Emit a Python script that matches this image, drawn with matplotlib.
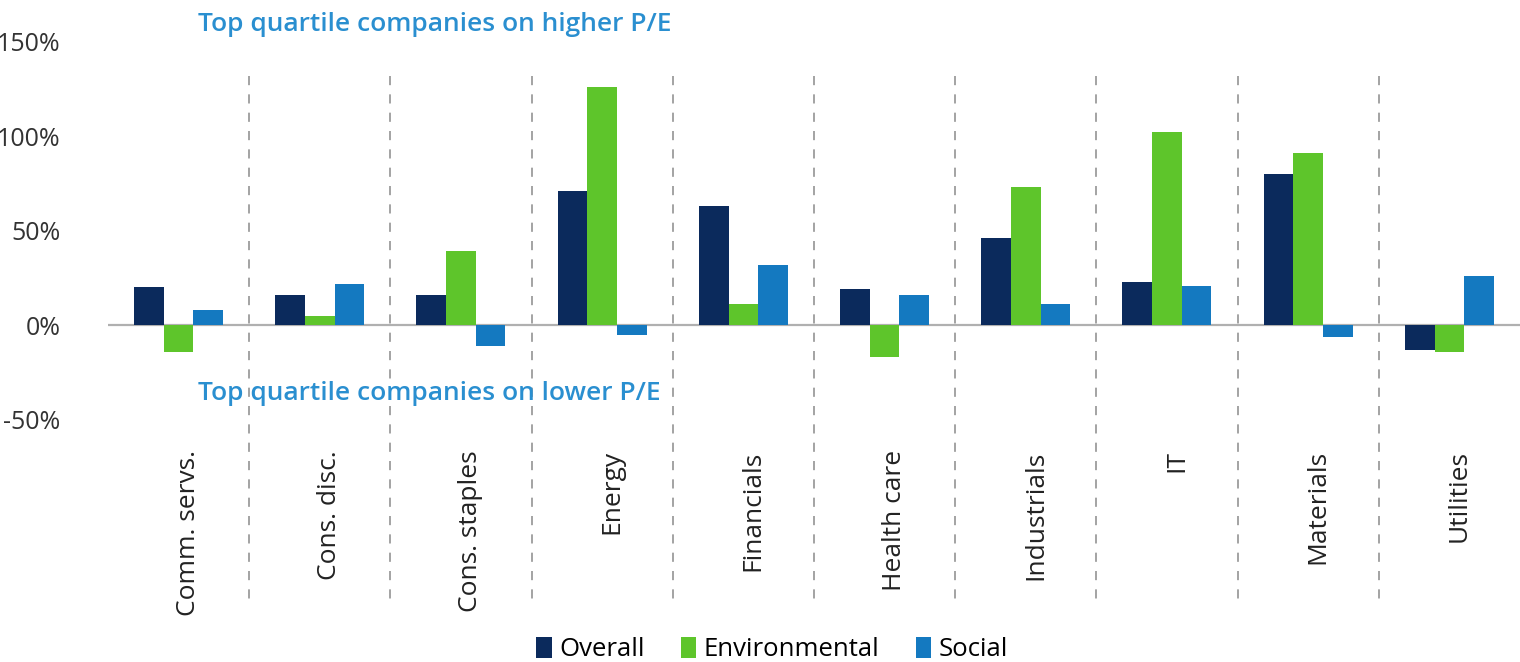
import numpy as np
import matplotlib.pyplot as plt
import matplotlib.transforms as mtransforms

sectors = ["Comm. servs.", "Cons. disc.", "Cons. staples", "Energy", "Financials",
           "Health care", "Industrials", "IT", "Materials", "Utilities"]
overall = [20, 16, 16, 71, 63, 19, 46, 23, 80, -13]
environmental = [-14, 5, 39, 126, 11, -17, 73, 102, 91, -14]
social = [8, 22, -11, -5, 32, 16, 11, 21, -6, 26]
series_names = ["Overall", "Environmental", "Social"]
y_ticks = [-50, 0, 50, 100, 150]


def main():
    plt.rcParams['font.family'] = ['Open Sans', 'DejaVu Sans']
    fig = plt.figure(figsize=(15.2, 6.62), dpi=100)
    ax = fig.add_axes([0.071, 0.366, 0.929, 0.571])

    colors = ["#0b2a5c", "#5ec52b", "#1479c0"]
    x = np.arange(len(sectors))
    w = 0.21
    for i, (vals, c) in enumerate(zip([overall, environmental, social], colors)):
        ax.bar(x + (i - 1) * w, vals, width=w, color=c, label=series_names[i], zorder=3)

    ax.set_xlim(-0.5, len(sectors) - 0.5)
    ax.set_ylim(-50, 150)
    ax.axhline(0, color="#b0b0b0", lw=1.6, zorder=2)

    # dashed separators, running down through the label area
    trans = mtransforms.blended_transform_factory(ax.transData, ax.transAxes)
    for s in x[:-1] + 0.5:
        ax.plot([s, s], [0.91, -0.475], transform=trans, clip_on=False,
                color="#8a8a8a", lw=1.1, ls=(0, (6, 6)), zorder=1)

    ax.set_yticks(y_ticks)
    ax.set_yticklabels([f"{v}%" for v in y_ticks], fontsize=18, color="#333333")
    ax.tick_params(axis="y", length=0, pad=34)
    ax.set_xticks(x + 0.07)
    ax.set_xticklabels(sectors, rotation=90, fontsize=19, color="#222222", va="top")
    ax.tick_params(axis="x", length=0, pad=22)
    for sp in ax.spines.values():
        sp.set_visible(False)

    ax.text(0.14, 159, "Top quartile companies on higher P/E", fontsize=19,
            fontweight="semibold", color="#2a8fd0", va="center", ha="left")
    ax.text(0.14, -36, "Top quartile companies on lower P/E", fontsize=19,
            fontweight="semibold", color="#2a8fd0", va="center", ha="left")

    fig.legend(loc="lower center", bbox_to_anchor=(0.508, -0.035), ncol=3, frameon=False,
               fontsize=18.5, handlelength=0.6, handleheight=0.9, handletextpad=0.3,
               columnspacing=1.4)

    fig.savefig("out.png", dpi=100)


if __name__ == '__main__':
    main()
